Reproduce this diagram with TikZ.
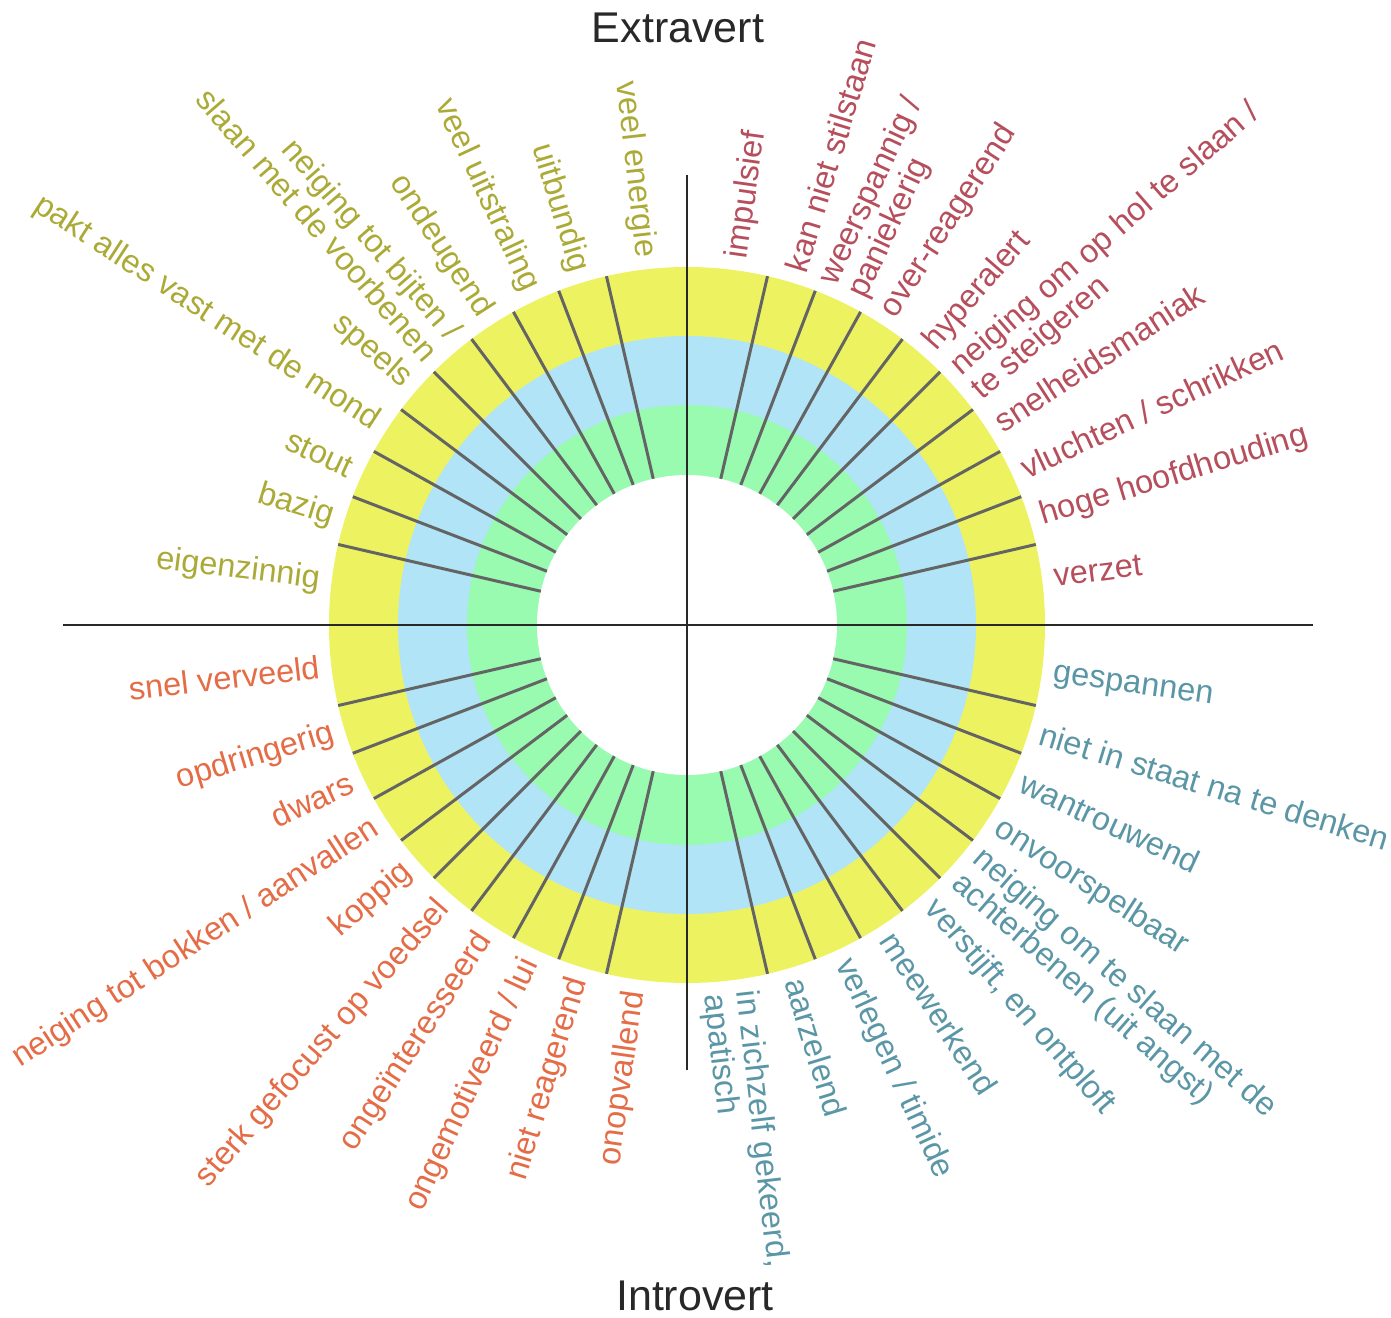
\documentclass[tikz,border=0pt]{standalone}
\usepackage{fontspec}
\setmainfont{Liberation Sans}
\definecolor{ringY}{RGB}{237,243,96}
\definecolor{ringB}{RGB}{176,228,246}
\definecolor{ringG}{RGB}{152,251,176}
\definecolor{spokeC}{RGB}{100,100,100}
\definecolor{axisC}{RGB}{40,40,40}
\definecolor{tlC}{RGB}{172,170,55}
\definecolor{trC}{RGB}{182,78,92}
\definecolor{blC}{RGB}{228,108,70}
\definecolor{brC}{RGB}{90,150,165}
\begin{document}
\begin{tikzpicture}[x=1pt,y=1pt,
  lbl/.style={inner sep=0pt, font=\fontsize{32.5}{32.5}\selectfont},
  rlbl/.style={lbl, anchor=west, align=left},
  llbl/.style={lbl, anchor=east, align=right},
  spoke/.style={draw=spokeC, line width=3pt},
  axisline/.style={draw=axisC, line width=2pt},
  title/.style={inner sep=0pt, font=\fontsize{43}{43}\selectfont, text=axisC}]
\useasboundingbox (-687,-692) rectangle (704,625);
% rings
\fill[ringY] (0,0) circle [radius=358pt];
\fill[ringB] (0,0) circle [radius=289pt];
\fill[ringG] (0,0) circle [radius=220pt];
\fill[white] (0,0) circle [radius=150pt];
% spokes
\foreach \q in {0,90,180,270}{
  \foreach \k in {0,...,8}{
    \pgfmathsetmacro\ang{\q+13+8*\k}
    \draw[spoke] (\ang:150pt) -- (\ang:358pt);
  }
}
% axes
\coordinate (axW) at (-624,0);
\coordinate (axE) at (626,0);
\coordinate (axN) at (0,450);
\coordinate (axS) at (0,-445);
\draw[axisline] (axW) -- (axE);
\draw[axisline] (axN) -- (axS);
% titles
\node[title, anchor=base] (ext) at (-9,582) {Extravert};
\node[title, anchor=base] (intro) at (8,-685) {Introvert};
% top-right labels
\node[rlbl, text=trC, rotate=7.5] (tr1) at (7.5:370pt) {verzet};
\node[rlbl, text=trC, rotate=17] (tr2) at (17:370pt) {hoge hoofdhouding};
\node[rlbl, text=trC, rotate=25] (tr3) at (25:370pt) {vluchten / schrikken};
\node[rlbl, text=trC, rotate=33] (tr4) at (33:370pt) {snelheidsmaniak};
\node[rlbl, text=trC, rotate=41] (tr5) at (41:370pt) {neiging om op hol te slaan /\\te steigeren};
\node[rlbl, text=trC, rotate=49] (tr6) at (49:370pt) {hyperalert};
\node[rlbl, text=trC, rotate=57] (tr7) at (57:370pt) {over-reagerend};
\node[rlbl, text=trC, rotate=65] (tr8) at (65:370pt) {weerspannig /\\paniekerig};
\node[rlbl, text=trC, rotate=73] (tr9) at (73:370pt) {kan niet stilstaan};
\node[rlbl, text=trC, rotate=82] (tr10) at (82:370pt) {impulsief};
% top-left labels
\node[llbl, text=tlC, rotate=-83.5] (tl1) at (96.5:370pt) {veel energie};
\node[llbl, text=tlC, rotate=-73] (tl2) at (107:370pt) {uitbundig};
\node[llbl, text=tlC, rotate=-65] (tl3) at (115:370pt) {veel uitstraling};
\node[llbl, text=tlC, rotate=-57] (tl4) at (123:370pt) {ondeugend};
\node[llbl, text=tlC, rotate=-49] (tl5) at (131:370pt) {neiging tot bijten /\\slaan met de voorbenen};
\node[llbl, text=tlC, rotate=-41] (tl6) at (139:370pt) {speels};
\node[llbl, text=tlC, rotate=-33] (tl7) at (147:370pt) {pakt alles vast met de mond};
\node[llbl, text=tlC, rotate=-25] (tl8) at (155:370pt) {stout};
\node[llbl, text=tlC, rotate=-17] (tl9) at (163:370pt) {bazig};
\node[llbl, text=tlC, rotate=-7] (tl10) at (173:370pt) {eigenzinnig};
% bottom-left labels
\node[llbl, text=blC, rotate=6.5] (bl1) at (186.5:370pt) {snel verveeld};
\node[llbl, text=blC, rotate=17] (bl2) at (197:370pt) {opdringerig};
\node[llbl, text=blC, rotate=25] (bl3) at (205:370pt) {dwars};
\node[llbl, text=blC, rotate=33] (bl4) at (213:370pt) {neiging tot bokken / aanvallen};
\node[llbl, text=blC, rotate=41] (bl5) at (221:370pt) {koppig};
\node[llbl, text=blC, rotate=49] (bl6) at (229:370pt) {sterk gefocust op voedsel};
\node[llbl, text=blC, rotate=57] (bl7) at (237:370pt) {ongeïnteresseerd};
\node[llbl, text=blC, rotate=65] (bl8) at (245:370pt) {ongemotiveerd / lui};
\node[llbl, text=blC, rotate=73] (bl9) at (253:370pt) {niet reagerend};
\node[llbl, text=blC, rotate=82] (bl10) at (262:370pt) {onopvallend};
% bottom-right labels
\node[rlbl, text=brC, rotate=-8] (br1) at (-8:370pt) {gespannen};
\node[rlbl, text=brC, rotate=-17] (br2) at (-17:370pt) {niet in staat na te denken};
\node[rlbl, text=brC, rotate=-25] (br3) at (-25:370pt) {wantrouwend};
\node[rlbl, text=brC, rotate=-33] (br4) at (-33:370pt) {onvoorspelbaar};
\node[rlbl, text=brC, rotate=-41] (br5) at (-41:370pt) {neiging om te slaan met de\\achterbenen (uit angst)};
\node[rlbl, text=brC, rotate=-49] (br6) at (-49:370pt) {verstijft, en ontploft};
\node[rlbl, text=brC, rotate=-57] (br7) at (-57:370pt) {meewerkend};
\node[rlbl, text=brC, rotate=-65] (br8) at (-65:370pt) {verlegen / timide};
\node[rlbl, text=brC, rotate=-73] (br9) at (-73:370pt) {aarzelend};
\node[rlbl, text=brC, rotate=-83.5] (br10) at (-83.5:370pt) {in zichzelf gekeerd,\\apatisch};
\end{tikzpicture}
\end{document}
